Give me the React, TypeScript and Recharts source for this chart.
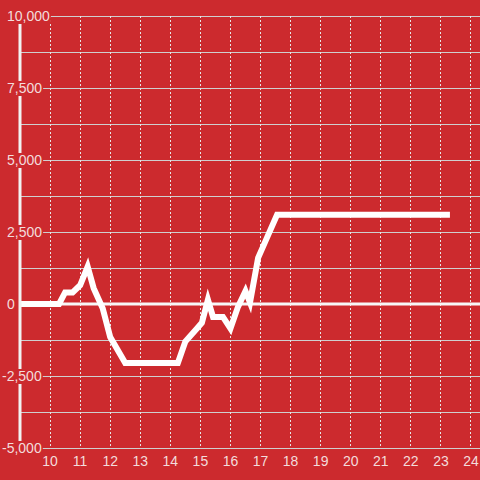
import React from 'react'
import {
  CartesianGrid,
  Line,
  LineChart,
  ReferenceLine,
  XAxis,
  YAxis,
} from 'recharts'

const hours = [
  9, 10.3, 10.5, 10.75, 11.0, 11.25, 11.45, 11.75, 12.0, 12.5, 14.25, 14.5,
  14.9, 15.05, 15.25, 15.42, 15.75, 16.0, 16.25, 16.5, 16.65, 16.92, 17.15,
  17.55, 23.3,
]
const balance = [
  0, 0, 400, 400, 650, 1300, 550, -150, -1150, -2050, -2050, -1300, -830,
  -650, 150, -450, -450, -850, -100, 450, 50, 1600, 2150, 3100, 3100,
]
const hourTicks = [10, 11, 12, 13, 14, 15, 16, 17, 18, 19, 20, 21, 22, 23, 24]
const balanceTicks = [
  -5000, -3750, -2500, -1250, 0, 1250, 2500, 3750, 5000, 6250, 7500, 8750,
  10000,
]
const labelledTicks = [-5000, -2500, 0, 2500, 5000, 7500, 10000]

const data = hours.map((h, i) => ({ hour: h, balance: balance[i] }))

const RED = '#CC2A2E'
const TEXT = '#F3DCDC'
const FONT = '"Liberation Sans", Arial, sans-serif'

function textWidth(s: string): number {
  let w = 0
  for (const c of s) {
    if (c === ',') w += 3.9
    else if (c === '-') w += 4.7
    else w += 7.8
  }
  return w
}

function YTick(props: any): React.ReactElement {
  const { y, payload } = props
  const v = payload.value as number
  if (!labelledTicks.includes(v)) return <g />
  const label = v.toLocaleString('en-US')
  const left = v < 0 ? 2 : 7
  const w = textWidth(label)
  return (
    <g>
      <rect x={0} y={y - 7} width={left + w + 1} height={15} fill={RED} />
      <text
        x={left}
        y={y + 5}
        fill={TEXT}
        fontSize={14}
        fontFamily={FONT}
        textAnchor="start"
      >
        {label}
      </text>
    </g>
  )
}

export default function App(): React.ReactElement {
  return (
    <div
      style={{
        position: 'absolute',
        left: 0,
        top: 0,
        width: 480,
        height: 480,
        background: RED,
      }}
    >
      <style>{'.recharts-cartesian-grid line { shape-rendering: crispEdges; }'}</style>
      <LineChart
        width={480}
        height={480}
        data={data}
        margin={{ top: 16, right: 0, bottom: 0, left: 0 }}
      >
        <CartesianGrid vertical={false} stroke="#CFCFCF" strokeWidth={1} />
        <CartesianGrid
          horizontal={false}
          stroke="#E6E6E6"
          strokeWidth={1}
          strokeDasharray="2 2"
        />
        <XAxis
          dataKey="hour"
          type="number"
          domain={[9, 24.3]}
          ticks={hourTicks}
          height={32}
          axisLine={false}
          tickLine={false}
          tick={{ fill: TEXT, fontSize: 14, fontFamily: FONT }}
          allowDataOverflow
        />
        <ReferenceLine y={0} stroke="#F7F7F7" strokeWidth={3} />
        <Line
          dataKey="balance"
          type="linear"
          stroke="#FFFFFF"
          strokeWidth={6}
          dot={false}
          isAnimationActive={false}
        />
        <YAxis
          type="number"
          domain={[-5000, 10000]}
          ticks={balanceTicks}
          width={20}
          axisLine={{ stroke: '#F2F2F2', strokeWidth: 3 }}
          tickLine={false}
          tick={<YTick />}
          interval={0}
          allowDataOverflow
        />
      </LineChart>
    </div>
  )
}
